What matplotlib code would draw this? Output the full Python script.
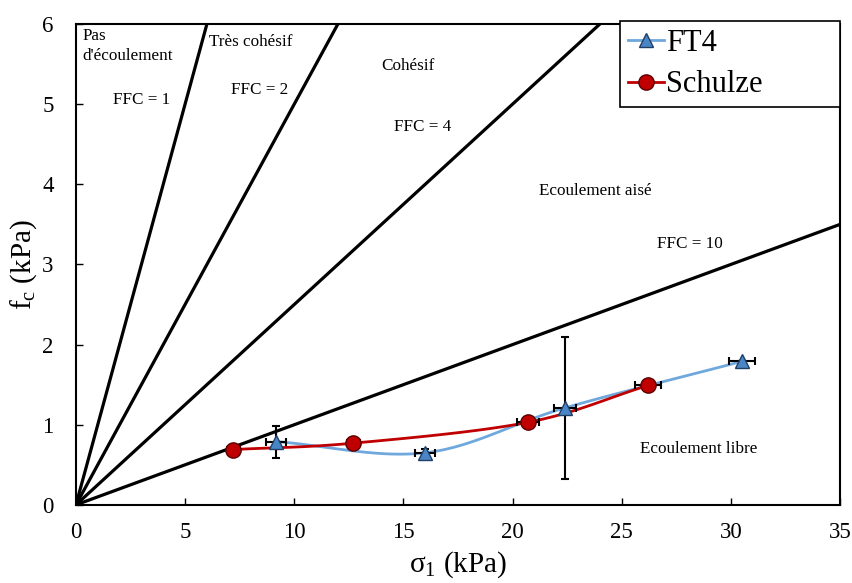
import numpy as np
import matplotlib.pyplot as plt

plt.rcParams['font.family'] = ['Liberation Serif', 'DejaVu Serif']
plt.rcParams['mathtext.fontset'] = 'custom'
plt.rcParams['mathtext.rm'] = 'Liberation Serif'
plt.rcParams['mathtext.it'] = 'Liberation Serif'

# donnees
ft4_sigma = [9.15, 16.0, 22.4, 30.5]
ft4_fc = [0.79, 0.65, 1.21, 1.79]
ft4_xerr = [0.45, 0.45, 0.5, 0.6]
ft4_yerr = [0.2, 0.05, 0.89, 0.0]

schulze_sigma = [7.2, 12.7, 20.7, 26.2]
schulze_fc = [0.69, 0.77, 1.03, 1.49]
schulze_xerr = [0.3, 0.3, 0.5, 0.6]

ffc_values = [1, 2, 4, 10]


def smooth(x, y, n=40):
    # courbe lissee type Catmull-Rom (comme Excel)
    x = np.asarray(x, float)
    y = np.asarray(y, float)
    px = np.concatenate([[2 * x[0] - x[1]], x, [2 * x[-1] - x[-2]]])
    py = np.concatenate([[2 * y[0] - y[1]], y, [2 * y[-1] - y[-2]]])
    xs, ys = [], []
    t = np.linspace(0, 1, n)
    for i in range(1, len(px) - 2):
        for p, out in ((px, xs), (py, ys)):
            p0, p1, p2, p3 = p[i - 1], p[i], p[i + 1], p[i + 2]
            out.extend(0.5 * ((2 * p1) + (-p0 + p2) * t
                              + (2 * p0 - 5 * p1 + 4 * p2 - p3) * t ** 2
                              + (-p0 + 3 * p1 - 3 * p2 + p3) * t ** 3))
    return np.array(xs), np.array(ys)


fig = plt.figure(figsize=(8.53, 5.83), dpi=100)
ax = fig.add_axes([0.089, 0.134, 0.896, 0.825])

xx = np.array([0, 35])
for ffc in ffc_values:
    ax.plot(xx, xx / ffc, color='black', lw=2.3, zorder=2)

# FT4
sx, sy = smooth(ft4_sigma, ft4_fc)
ax.plot(sx, sy, color='#6fa8dc', lw=2.0, zorder=3)
ax.errorbar(ft4_sigma, ft4_fc, xerr=ft4_xerr, yerr=ft4_yerr, fmt='none',
            ecolor='black', elinewidth=1.5, capsize=3, capthick=1.5, zorder=4)
ax.plot(ft4_sigma, ft4_fc, linestyle='none', marker='^', markersize=10,
        markerfacecolor='#4a86c5', markeredgecolor='#1f3f66', zorder=5)

# Schulze
sx, sy = smooth(schulze_sigma, schulze_fc)
ax.plot(sx, sy, color='#c00000', lw=2.0, zorder=3)
ax.errorbar(schulze_sigma, schulze_fc, xerr=schulze_xerr, fmt='none',
            ecolor='black', elinewidth=1.5, capsize=3, capthick=1.5, zorder=4)
ax.plot(schulze_sigma, schulze_fc, linestyle='none', marker='o', markersize=11,
        markerfacecolor='#c00000', markeredgecolor='#5a0000', zorder=6)

# legende
h1, = ax.plot([], [], color='#6fa8dc', lw=2, marker='^', markersize=10,
              markerfacecolor='#4a86c5', markeredgecolor='#1f3f66')
h2, = ax.plot([], [], color='#c00000', lw=2, marker='o', markersize=11,
              markerfacecolor='#c00000', markeredgecolor='#5a0000')
leg = ax.legend([h1, h2], ['FT4', 'Schulze'], loc='upper left', fontsize=22,
                frameon=True, fancybox=False, edgecolor='black', framealpha=1,
                handlelength=1.2, handletextpad=0.05, borderpad=0.25,
                labelspacing=0.4, borderaxespad=0.0, mode='expand',
                bbox_to_anchor=(0.712, 0.5, 0.288, 0.505))
leg.get_frame().set_linewidth(1.2)
leg.set_zorder(10)

# zones
fs = 12.3
ax.text(0.3, 5.95, "Pas\nd'écoulement", fontsize=fs, va='top', ha='left', linespacing=1.3)
ax.text(3.0, 5.05, 'FFC = 1', fontsize=fs, ha='center', va='center')
ax.text(6.1, 5.78, 'Très cohésif', fontsize=fs, ha='left', va='center')
ax.text(8.4, 5.17, 'FFC = 2', fontsize=fs, ha='center', va='center')
ax.text(15.2, 5.47, 'Cohésif', fontsize=fs, ha='center', va='center')
ax.text(15.9, 4.71, 'FFC = 4', fontsize=fs, ha='center', va='center')
ax.text(23.8, 3.91, 'Ecoulement aisé', fontsize=fs, ha='center', va='center')
ax.text(28.1, 3.25, 'FFC = 10', fontsize=fs, ha='center', va='center')
ax.text(28.5, 0.70, 'Ecoulement libre', fontsize=fs, ha='center', va='center')

ax.set_xlim(0, 35)
ax.set_ylim(0, 6)
ax.set_xticks(range(0, 36, 5))
ax.set_yticks(range(0, 7))
ax.tick_params(direction='in', labelsize=16.5, width=1, length=5)
ax.tick_params(axis='x', pad=12)
ax.tick_params(axis='y', pad=16)
for s in ax.spines.values():
    s.set_linewidth(1.5)

ax.set_xlabel(r'$\mathrm{\sigma_1}$ (kPa)', fontsize=21, labelpad=5)
ax.set_ylabel(r'f$_\mathrm{c}$ (kPa)', fontsize=21, labelpad=2)

fig.savefig('out.png', dpi=100)
